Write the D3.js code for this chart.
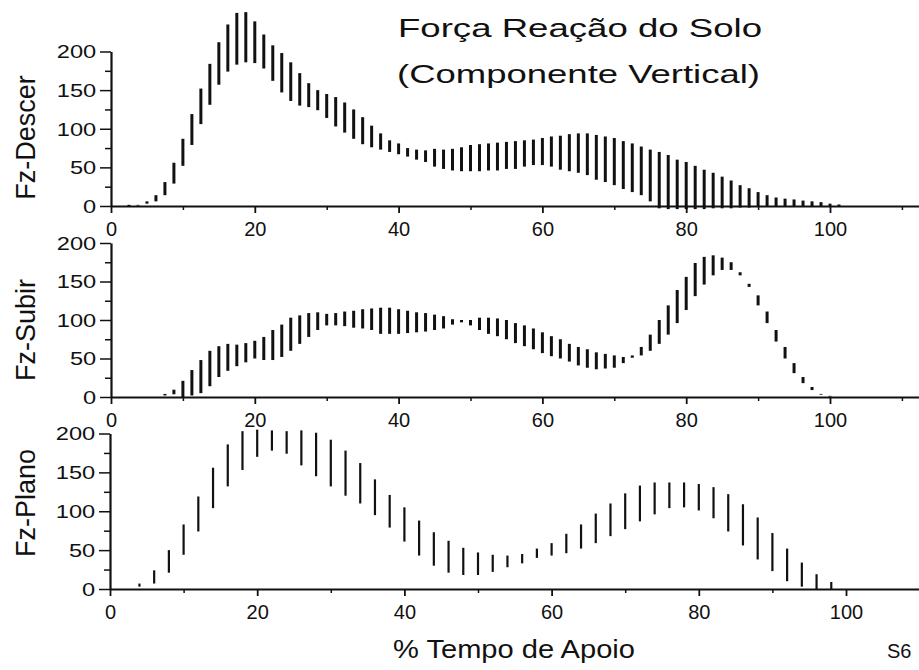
<!DOCTYPE html>
<html>
<head>
<meta charset="utf-8">
<script src="https://cdn.jsdelivr.net/npm/d3@7"></script>
<style>
  html, body { margin: 0; padding: 0; background: #fff; }
  svg { display: block; }
  text { font-family: "Liberation Sans", Arial, Helvetica, sans-serif; fill: #111; }
</style>
</head>
<body>
<script>
// ---- Data: vertical ground reaction force, range (min..max) per % of stance ----

// Descending
const descerPct = [2.5, 3.75, 5, 6.25, 7.5, 8.75, 10, 11.25, 12.5, 13.75, 15, 16.25, 17.5, 18.75, 20, 21.25,
  22.5, 23.75, 25, 26.25, 27.5, 28.75, 30, 31.25, 32.5, 33.75, 35, 36.25, 37.5, 38.75, 40, 41.25,
  42.5, 43.75, 45, 46.25, 47.5, 48.75, 50, 51.25, 52.5, 53.75, 55, 56.25, 57.5, 58.75, 60, 61.25,
  62.5, 63.75, 65, 66.25, 67.5, 68.75, 70, 71.25, 72.5, 73.75, 75, 76.25, 77.5, 78.75, 80, 81.25,
  82.5, 83.75, 85, 86.25, 87.5, 88.75, 90, 91.25, 92.5, 93.75, 95, 96.25, 97.5, 98.75, 100, 101.25];
const descerMin = [0, 0.5, 3, 6, 14, 29, 52, 79, 106, 131, 157, 174, 183, 186, 185, 178,
  162, 147, 136, 130, 128, 124, 114, 103, 95, 87, 80, 76, 73, 70, 67, 64,
  60, 57, 51, 48, 46, 45, 45, 45, 46, 46, 48, 48, 51, 53, 53, 51,
  47, 45, 43, 40, 34, 31, 27, 22, 18, 14, 6, -3, -4, -4, -4, -4,
  -4, -3, -3, -3, -2, -2, -1, -1, 0, 0, 0, 0, 0, 0, 0, 0];
const descerMax = [1.5, 1.5, 6, 14, 31, 56, 87, 119, 152, 184, 212, 235, 250, 251, 239, 222,
  208, 198, 186, 172, 159, 150, 145, 141, 134, 125, 115, 104, 94, 85, 81, 75,
  73, 72, 74, 73, 74, 76, 79, 80, 81, 82, 83, 84, 85, 86, 88, 90,
  91, 93, 94, 94, 92, 90, 88, 84, 81, 77, 73, 70, 66, 60, 57, 52,
  47, 43, 38, 33, 27, 23, 18, 14, 11, 9.5, 8.5, 7, 6, 5, 3, 2];

// Ascending
const subirPct = [7.5, 8.75, 10, 11.25, 12.5, 13.75, 15, 16.25, 17.5, 18.75, 20, 21.25, 22.5, 23.75, 25,
  26.25, 27.5, 28.75, 30, 31.25, 32.5, 33.75, 35, 36.25, 37.5, 38.75, 40, 41.25, 42.5, 43.75,
  45, 46.25, 47.5, 48.75, 50, 51.25, 52.5, 53.75, 55, 56.25, 57.5, 58.75, 60, 61.25, 62.5,
  63.75, 65, 66.25, 67.5, 68.75, 70, 71.25, 72.5, 73.75, 75, 76.25, 77.5, 78.75, 80, 81.25,
  82.5, 83.75, 85, 86.25, 87.5, 88.75, 90, 91.25, 92.5, 93.75, 95, 96.25, 97.5, 98.75, 100];
const subirMin = [2, 3.5, 0, 2, 5, 14, 26, 34, 40, 45, 50, 48, 48, 52, 60,
  69, 78, 87, 93, 93, 92, 90, 89, 87, 82, 82, 82, 83, 84, 85,
  87, 89, 94, 97, 93, 87, 82, 79, 75, 70, 66, 62, 57, 53, 50,
  46, 41, 38, 36, 37, 38, 44, 51, 54, 60, 69, 81, 96, 113, 131,
  146, 158, 165, 165, 158, 143, 119, 96, 72, 50, 31, 18, 9, 3, 0.5];
const subirMax = [4, 9.5, 21, 35, 48, 60, 66, 69, 68, 70, 73, 78, 87, 94, 103,
  106, 109, 110, 108, 109, 111, 112, 114, 115, 116, 116, 114, 112, 110, 109,
  107, 105, 101, 100, 100, 103, 103, 102, 100, 96, 93, 89, 84, 79, 75,
  69, 65, 62, 58, 56, 54, 52, 54, 65, 81, 100, 119, 139, 156, 174,
  182, 184, 181, 175, 162, 147, 132, 111, 87, 65, 44, 26, 13, 4, 1.5];

// Level walking
const planoPct = [4, 6, 8, 10, 12, 14, 16, 18, 20, 22, 24, 26, 28, 30, 32, 34, 36, 38, 40, 42, 44, 46, 48,
  50, 52, 54, 56, 58, 60, 62, 64, 66, 68, 70, 72, 74, 76, 78, 80, 82, 84, 86, 88, 90, 92, 94, 96, 98];
const planoMin = [3, 7, 21, 44, 74, 104, 132, 153, 170, 178, 174, 159, 145, 132, 120, 110, 95, 79, 61, 43, 30, 21, 18,
  18, 22, 28, 33, 40, 43, 46, 52, 59, 68, 77, 87, 96, 104, 105, 101, 91, 74, 56, 38, 23, 10, 3, 0, 0];
const planoMax = [7, 24, 50, 83, 119, 156, 186, 203, 205, 204, 203, 204, 201, 192, 178, 162, 141, 121, 105, 88, 73, 62, 53,
  47, 44, 43, 45, 52, 59, 71, 83, 97, 110, 123, 133, 137, 137, 137, 135, 131, 122, 109, 92, 72, 52, 34, 19, 9];

// Axis ticks
const xMajorTicks = [0, 20, 40, 60, 80, 100];
const xMinorTicks = [10, 30, 50, 70, 90, 110];
const yMajorTicks = [0, 50, 100, 150, 200];
const yMinorTicks = [25, 75, 125, 175];

const titleLines = ["Força Reação do Solo", "(Componente Vertical)"];
const xTitle = "% Tempo de Apoio";
const cornerTag = "S6";

// ---- Layout ----
const W = 919, H = 670;
const svg = d3.select("body").append("svg").attr("width", W).attr("height", H);

const panels = [
  { name: "Fz-Descer", pct: descerPct, lo: descerMin, hi: descerMax,
    x0: 111, x100: 830, y0: 206, y200: 51.5, barW: 3, labelY: 137.5 },
  { name: "Fz-Subir", pct: subirPct, lo: subirMin, hi: subirMax,
    x0: 111, x100: 830, y0: 397, y200: 243, barW: 3, labelY: 330 },
  { name: "Fz-Plano", pct: planoPct, lo: planoMin, hi: planoMax,
    x0: 110, x100: 846, y0: 589, y200: 433.5, barW: 2.2, labelY: 503 }
];

panels.forEach(p => {
  const pxPerUnit = (p.x100 - p.x0) / 100;
  const x = d3.scaleLinear().domain([0, (W - p.x0) / pxPerUnit]).range([p.x0, W]);
  const y = d3.scaleLinear().domain([0, 200]).range([p.y0, p.y200]);
  const g = svg.append("g");

  // range bars
  g.append("g").selectAll("line")
    .data(p.pct.map((v, i) => ({ v, lo: p.lo[i], hi: p.hi[i] })))
    .join("line")
    .attr("x1", d => x(d.v)).attr("x2", d => x(d.v))
    .attr("y1", d => y(d.lo)).attr("y2", d => y(d.hi))
    .attr("stroke", "#111")
    .attr("stroke-width", p.barW);

  // x axis: minor ticks, then major ticks with labels
  const xMinor = g.append("g").attr("transform", `translate(0,${p.y0})`)
    .call(d3.axisBottom(x).tickValues(xMinorTicks).tickSize(4).tickSizeOuter(0).tickFormat(""));
  xMinor.select(".domain").remove();
  const xMajor = g.append("g").attr("transform", `translate(0,${p.y0})`)
    .call(d3.axisBottom(x).tickValues(xMajorTicks).tickSize(7).tickSizeOuter(0).tickFormat(d3.format("d")));
  xMajor.select(".domain").attr("stroke-width", 2.2);
  xMajor.selectAll(".tick text").attr("y", 30).attr("dy", 0).style("font-size", "20px");

  // y axis
  const yMinor = g.append("g").attr("transform", `translate(${p.x0},0)`)
    .call(d3.axisLeft(y).tickValues(yMinorTicks).tickSize(6).tickSizeOuter(0).tickFormat(""));
  yMinor.select(".domain").remove();
  yMinor.selectAll(".tick line").attr("stroke-width", 1.5);
  const yMajor = g.append("g").attr("transform", `translate(${p.x0},0)`)
    .call(d3.axisLeft(y).tickValues(yMajorTicks).tickSize(11).tickSizeOuter(0).tickFormat(d3.format("d")));
  yMajor.select(".domain").attr("stroke-width", 2.2);
  yMajor.selectAll(".tick line").attr("stroke-width", 1.5);
  yMajor.selectAll(".tick text")
    .attr("x", -11).attr("dy", "0.36em")
    .attr("transform", "scale(1.35,1)")
    .style("font-size", "17.5px");

  [xMinor, xMajor, yMinor, yMajor].forEach(a => {
    a.selectAll("line, path").attr("stroke", "#111");
    a.selectAll("text").attr("fill", "#111");
  });
  xMajor.selectAll(".tick line").attr("stroke-width", 1.8);
  xMinor.selectAll(".tick line").attr("stroke-width", 1.5);

  // panel label, rotated
  svg.append("text")
    .attr("transform", `translate(35,${p.labelY}) rotate(-90)`)
    .attr("text-anchor", "middle")
    .style("font-size", "27px")
    .text(p.name);
});

// title
svg.append("text").attr("x", 398).attr("y", 37)
  .attr("textLength", 364).attr("lengthAdjust", "spacingAndGlyphs")
  .style("font-size", "25px").text(titleLines[0]);
svg.append("text").attr("x", 397).attr("y", 83)
  .attr("textLength", 363).attr("lengthAdjust", "spacingAndGlyphs")
  .style("font-size", "25px").text(titleLines[1]);

// x axis title and tag
svg.append("text").attr("x", 393).attr("y", 658)
  .attr("textLength", 242).attr("lengthAdjust", "spacingAndGlyphs")
  .style("font-size", "25px").text(xTitle);
svg.append("text").attr("x", 887).attr("y", 658)
  .style("font-size", "20px").text(cornerTag);
</script>
</body>
</html>
